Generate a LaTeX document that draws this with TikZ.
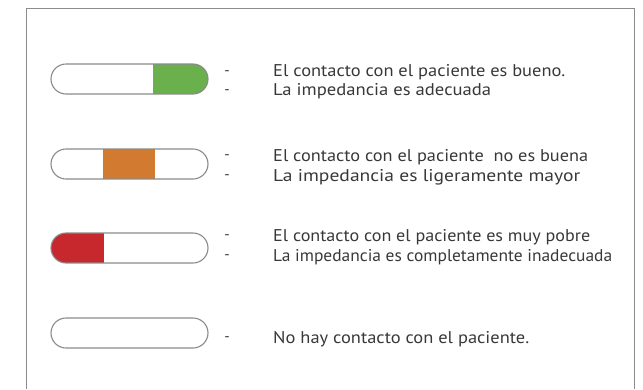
\documentclass[tikz,border=0pt]{standalone}
\usepackage{fontspec}
\setmainfont{PT Sans}
\usetikzlibrary{calc}
\definecolor{framegray}{HTML}{8C8C8C}
\definecolor{pillgray}{HTML}{8A8A8A}
\definecolor{txtgray}{HTML}{383838}
\definecolor{okgreen}{HTML}{6AB04C}
\definecolor{midorange}{HTML}{D27A30}
\definecolor{badred}{HTML}{C7282E}
\tikzset{
  pill/.style n args={3}{draw=pillgray, line width=1.1pt, rounded corners=15pt,
    minimum width=157pt, minimum height=30pt, inner sep=0pt,
    path picture={\fill[#1, sharp corners] ($(path picture bounding box.south west)+(#2,0)$) rectangle ($(path picture bounding box.north west)+(#3,0)$);}},
  emptypill/.style={draw=pillgray, line width=1.1pt, rounded corners=15pt,
    minimum width=157pt, minimum height=30pt, inner sep=0pt},
  dashmark/.style={anchor=base, text=txtgray, font=\fontsize{15}{17}\selectfont, inner sep=0pt},
  label/.style={anchor=base west, text=txtgray, font=\fontsize{17}{19}\selectfont, inner sep=0pt}
}
\newcommand{\fitw}[2]{\resizebox{#1pt}{\height}{#2}}
\begin{document}
\begin{tikzpicture}[x=1pt,y=-1pt]
\useasboundingbox (0,0) rectangle (643,389);
\draw[framegray, line width=1pt] (26,389) -- (26,8) -- (634,8) -- (634,389);
% pills
\node (p1) [pill={okgreen}{102}{157}] at (129.5,79) {};
\node (p2) [pill={midorange}{52}{104}] at (129.5,164) {};
\node (p3) [pill={badred}{0}{53}] at (129.5,248) {};
\node (p4) [emptypill] at (129.5,333) {};
% dashes
\node (d1a) [dashmark] at (227,75) {-};
\node (d1b) [dashmark] at (227,94) {-};
\node (d2a) [dashmark] at (227,159.5) {-};
\node (d2b) [dashmark] at (227,179.5) {-};
\node (d3a) [dashmark] at (227,239.5) {-};
\node (d3b) [dashmark] at (227,259.5) {-};
\node (d4) [dashmark] at (227,341.5) {-};
% texts
\node (t1a) [label] at (273,76.5) {\fitw{292}{El contacto con el paciente es bueno.}};
\node (t1b) [label] at (273,95.5) {\fitw{218}{La impedancia es adecuada}};
\node (t2a) [label] at (273,161) {\fitw{315}{El contacto con el paciente\ \ no es buena}};
\node (t2b) [label] at (273,181) {\fitw{307}{La impedancia es ligeramente mayor}};
\node (t3a) [label] at (273,241) {\fitw{317}{El contacto con el paciente es muy pobre}};
\node (t3b) [label] at (273,261) {\fitw{339}{La impedancia es completamente inadecuada}};
\node (t4) [label] at (273,343) {\fitw{256}{No hay contacto con el paciente.}};
\end{tikzpicture}
\end{document}
